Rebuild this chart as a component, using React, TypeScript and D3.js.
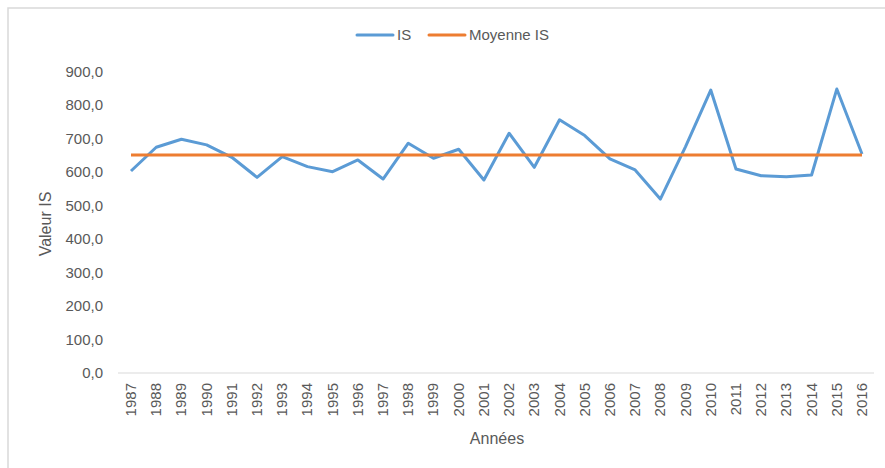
import React from "react";
import * as d3 from "d3";

// IS values per year
const years = [
  "1987", "1988", "1989", "1990", "1991", "1992", "1993", "1994", "1995", "1996",
  "1997", "1998", "1999", "2000", "2001", "2002", "2003", "2004", "2005", "2006",
  "2007", "2008", "2009", "2010", "2011", "2012", "2013", "2014", "2015", "2016",
];
const isValues = [
  604, 675, 699, 682, 645, 585, 647, 617, 602, 637,
  580, 687, 642, 669, 577, 717, 615, 757, 710, 640,
  607, 520, 677, 846, 610, 590, 587, 592, 849, 655,
];
const meanIS = 652;
const yTicks = [0, 100, 200, 300, 400, 500, 600, 700, 800, 900];

const W = 885;
const H = 468;
const FONT = "'Liberation Sans', Arial, sans-serif";
const GREY = "#595959";

export default function App() {
  const x = d3.scalePoint<string>().domain(years).range([131, 862]);
  const y = d3.scaleLinear().domain([0, 900]).range([373, 72]);

  const line = d3
    .line<number>()
    .x((d, i) => x(years[i]) as number)
    .y((d) => y(d));

  const meanLine = d3
    .line<string>()
    .x((d) => x(d) as number)
    .y(() => y(meanIS));

  const fmt = (v: number) => d3.format(".1f")(v).replace(".", ",");

  return (
    <svg
      width={W}
      height={H}
      style={{ position: "absolute", left: 0, top: 0, background: "#fff" }}
      fontFamily={FONT}
    >
      {/* chart frame (right/bottom cut off) */}
      <path d={`M8,${H + 5} L8,8 L${W + 5},8`} fill="none" stroke="#d9d9d9" strokeWidth={1.5} />

      {/* legend */}
      <g>
        <line x1={357} x2={393} y1={35} y2={35} stroke="#5b9bd5" strokeWidth={3} strokeLinecap="round" />
        <text x={397} y={40} fontSize={15} fill={GREY}>IS</text>
        <line x1={429} x2={465} y1={35} y2={35} stroke="#ed7d31" strokeWidth={3} strokeLinecap="round" />
        <text x={469} y={40} fontSize={15} fill={GREY}>Moyenne IS</text>
      </g>

      {/* y axis labels */}
      {yTicks.map((t) => (
        <text key={t} x={103} y={y(t) + 5} textAnchor="end" fontSize={15} fill={GREY}>
          {fmt(t)}
        </text>
      ))}
      <text
        transform={`translate(51,224) rotate(-90)`}
        textAnchor="middle"
        fontSize={16}
        fill={GREY}
      >
        Valeur IS
      </text>

      {/* x axis */}
      <line x1={118} x2={874} y1={y(0)} y2={y(0)} stroke="#d9d9d9" strokeWidth={1} />
      {years.map((yr) => (
        <text
          key={yr}
          transform={`translate(${(x(yr) as number) + 5},383) rotate(-90)`}
          textAnchor="end"
          fontSize={15}
          fill={GREY}
        >
          {yr}
        </text>
      ))}
      <text x={497} y={444} textAnchor="middle" fontSize={16} fill={GREY}>
        Années
      </text>

      {/* series */}
      <path d={line(isValues) || ""} fill="none" stroke="#5b9bd5" strokeWidth={3} strokeLinejoin="round" />
      <path d={meanLine(years) || ""} fill="none" stroke="#ed7d31" strokeWidth={3} />
    </svg>
  );
}
